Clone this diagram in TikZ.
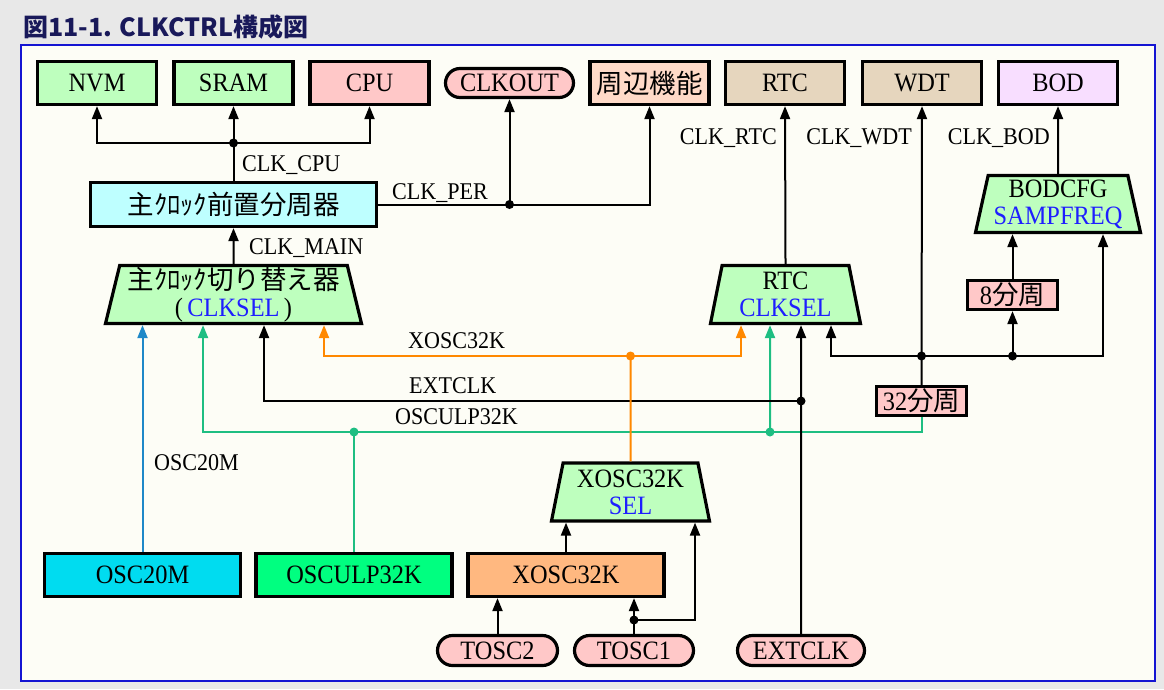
\documentclass[tikz,border=0pt]{standalone}
\usepackage{fontspec}
\setmainfont{Liberation Serif}[FakeStretch=0.92]
\newfontfamily\jpfont{Noto Sans CJK JP}
\usepackage{tikz}
\usetikzlibrary{shapes.geometric,arrows.meta,positioning}

\definecolor{outerbg}{RGB}{232,232,232}
\definecolor{panelbg}{RGB}{253,253,246}
\definecolor{frameblue}{RGB}{20,20,210}
\definecolor{titlenavy}{RGB}{25,25,90}
\definecolor{boxgreen}{RGB}{190,255,190}
\definecolor{boxpink}{RGB}{255,200,200}
\definecolor{boxpeach}{RGB}{255,218,200}
\definecolor{boxtan}{RGB}{230,214,190}
\definecolor{boxlilac}{RGB}{248,222,255}
\definecolor{boxcyan}{RGB}{190,255,255}
\definecolor{osccyan}{RGB}{0,220,240}
\definecolor{ulpgreen}{RGB}{0,255,128}
\definecolor{xoscorange}{RGB}{255,184,128}
\definecolor{lineblue}{RGB}{30,136,200}
\definecolor{linegreen}{RGB}{30,190,130}
\definecolor{lineorange}{RGB}{255,136,0}
\definecolor{regblue}{RGB}{30,30,255}

\newcommand\ja[1]{{\jpfont #1}}
\newcommand\boxfont{\fontsize{26.5}{27}\selectfont}
\newcommand\lblfont{\fontsize{24}{26}\selectfont}
\newcommand\titlefont{\jpfont\bfseries\fontsize{25}{27}\selectfont}

\tikzset{
  blk/.style={draw, line width=3.2pt, minimum width=119pt, minimum height=43pt, inner sep=0pt, font=\boxfont},
  pill/.style={blk, rounded corners=15pt, minimum height=30pt},
  mux/.style={draw, line width=3.2pt, trapezium, trapezium left angle=75.5, trapezium right angle=75.5,
    trapezium stretches body, minimum height=58pt, inner sep=0pt, align=center, fill=boxgreen, font=\boxfont},
  lbl/.style={font=\lblfont, inner sep=0pt},
  wire/.style={line width=2pt},
  sig/.style={wire, ->},
}

\begin{document}
\begin{tikzpicture}[x=1pt,y=-1pt,>={Triangle[length=13pt,width=10pt]}]
      \useasboundingbox (0,0) rectangle (1164,689);
      \fill[outerbg] (0,0) rectangle (1164,689);
      \draw[frameblue, line width=1.5pt, fill=panelbg] (21,45) rectangle (1155,681);
      \node[anchor=west, text=titlenavy, font=\titlefont, inner sep=0pt] (title) at (23,27) {図11-1. CLKCTRL構成図};

      % top row
      \node[blk, fill=boxgreen] (nvm) at (97,83) {NVM};
      \node[blk, fill=boxgreen] (sram) at (233.5,83) {SRAM};
      \node[blk, fill=boxpink] (cpu) at (369.5,83) {CPU};
      \node[pill, fill=boxpink, minimum width=128pt, rounded corners=14.5pt, minimum height=29pt] (clkout) at (509.5,83) {CLKOUT};
      \node[blk, fill=boxpeach] (periph) at (649.5,83) {\ja{周辺機能}};
      \node[blk, fill=boxtan] (rtc) at (785,83) {RTC};
      \node[blk, fill=boxtan] (wdt) at (922,83) {WDT};
      \node[blk, fill=boxlilac] (bod) at (1058,83) {BOD};

      % selectors and dividers
      \node[blk, fill=boxcyan, minimum width=286pt, minimum height=44pt] (prediv) at (233.5,204.5) {\ja{主ｸﾛｯｸ前置分周器}};
      \node[mux, minimum width=256pt] (mainsel) at (233.5,294.5) {\ja{主ｸﾛｯｸ切り替え器}\\(\,\textcolor{regblue}{CLKSEL}\,)};
      \node[mux, minimum width=150pt] (rtcsel) at (785.5,294.5) {RTC\\\textcolor{regblue}{CLKSEL}};
      \node[mux, minimum width=165pt, minimum height=57pt] (bodcfg) at (1058,204) {BODCFG\\\textcolor{regblue}{SAMPFREQ}};
      \node[mux, minimum width=158pt] (xsel) at (630.5,492) {XOSC32K\\\textcolor{regblue}{SEL}};
      \node[blk, fill=boxpink, minimum width=90pt, minimum height=29pt] (div8) at (1012.5,295) {8\ja{分周}};
      \node[blk, fill=boxpink, minimum width=90pt, minimum height=29pt] (div32) at (921.5,401) {32\ja{分周}};

      % sources
      \node[blk, fill=osccyan, minimum width=196pt] (osc20m) at (142.5,575) {OSC20M};
      \node[blk, fill=ulpgreen, minimum width=196pt] (osculp) at (354,575) {OSCULP32K};
      \node[blk, fill=xoscorange, minimum width=196pt] (xosc) at (566,575) {XOSC32K};
      \node[pill, fill=boxpink, minimum width=120pt] (tosc2) at (497.5,650.5) {TOSC2};
      \node[pill, fill=boxpink, minimum width=119pt] (tosc1) at (634,650.5) {TOSC1};
      \node[pill, fill=boxpink, minimum width=127pt] (extclk) at (801,650.5) {EXTCLK};

      % signal names
      \node[lbl, anchor=base west] (lcpu) at (242,171) {CLK\_CPU};
      \node[lbl, anchor=base west] (lper) at (392,199) {CLK\_PER};
      \node[lbl, anchor=base west] (lmain) at (249,254) {CLK\_MAIN};
      \node[lbl, anchor=base east] (lrtc) at (777,144) {CLK\_RTC};
      \node[lbl, anchor=base east] (lwdt) at (912,144) {CLK\_WDT};
      \node[lbl, anchor=base east] (lbod) at (1050,144) {CLK\_BOD};
      \node[lbl, anchor=base west] (lxo) at (408,348) {XOSC32K};
      \node[lbl, anchor=base west] (lext) at (409,393) {EXTCLK};
      \node[lbl, anchor=base west] (lulp) at (395,424) {OSCULP32K};
      \node[lbl, anchor=base west] (losc) at (154,470) {OSC20M};

      % junctions
      \coordinate (jcpu) at (233.5,143);
      \coordinate (jper) at (clkout.south |- prediv.east);
      \coordinate (jxo) at (630.5,356);
      \coordinate (jext) at (801,401);
      \coordinate (julp) at (354,432);
      \coordinate (julp2) at (770,432);
      \coordinate (j32) at (921.5,356);
      \coordinate (j8) at (1012.5,356);
      \coordinate (jt1) at (634,620);

      % clock tree
      \draw[wire] (prediv.north) -- (jcpu);
      \draw[sig] (jcpu) -- (sram.south);
      \draw[sig] (jcpu) -| (nvm.south);
      \draw[sig] (jcpu) -| (cpu.south);
      \draw[sig] (prediv.east) -| (periph.south);
      \draw[sig] (jper) -- (clkout.south);
      \draw[sig] (mainsel.north) -- (prediv.south);
      \draw[sig] (rtcsel.north) -- (rtc.south);
      \draw[sig] (bodcfg.north) -- (bod.south);
      \draw[sig] (div32.north) -- (wdt.south);
      \draw[sig] (j32) -| ([xshift=45.5pt]rtcsel.south);
      \draw[sig] (j32) -| ([xshift=45pt]bodcfg.south);
      \draw[sig] (j8) -- (div8.south);
      \draw[sig] (div8.north) -- (div8.north |- bodcfg.south);

      \draw[sig, lineblue] (osc20m.north) -- (osc20m.north |- mainsel.south);
      \draw[wire, linegreen] (osculp.north) -- (julp);
      \draw[sig, linegreen] (julp) -| ([xshift=-30.5pt]mainsel.south);
      \draw[wire, linegreen] (julp) -| (div32.south);
      \draw[sig, linegreen] (julp2) -- ([xshift=-15.5pt]rtcsel.south);
      \draw[sig] (extclk.north) -- ([xshift=15.5pt]rtcsel.south);
      \draw[sig] (jext) -| ([xshift=30.5pt]mainsel.south);
      \draw[wire, lineorange] (xsel.north) -- (jxo);
      \draw[sig, lineorange] (jxo) -| ([xshift=90.5pt]mainsel.south);
      \draw[sig, lineorange] (jxo) -| ([xshift=-44.5pt]rtcsel.south);
      \draw[sig] (xosc.north) -- (xosc.north |- xsel.south);
      \draw[sig] (tosc2.north) -- (tosc2.north |- xosc.south);
      \draw[wire] (tosc1.north) -- (jt1);
      \draw[sig] (jt1) -- (jt1 |- xosc.south);
      \draw[sig] (jt1) -| ([xshift=64.5pt]xsel.south);

      % dots
      \foreach \j in {jcpu,jper,jext,j32,j8,jt1} \fill (\j) circle (4.5pt);
      \fill[lineorange] (jxo) circle (4.5pt);
      \fill[linegreen] (julp) circle (4.5pt);
      \fill[linegreen] (julp2) circle (4.5pt);
    \end{tikzpicture}
\end{document}
